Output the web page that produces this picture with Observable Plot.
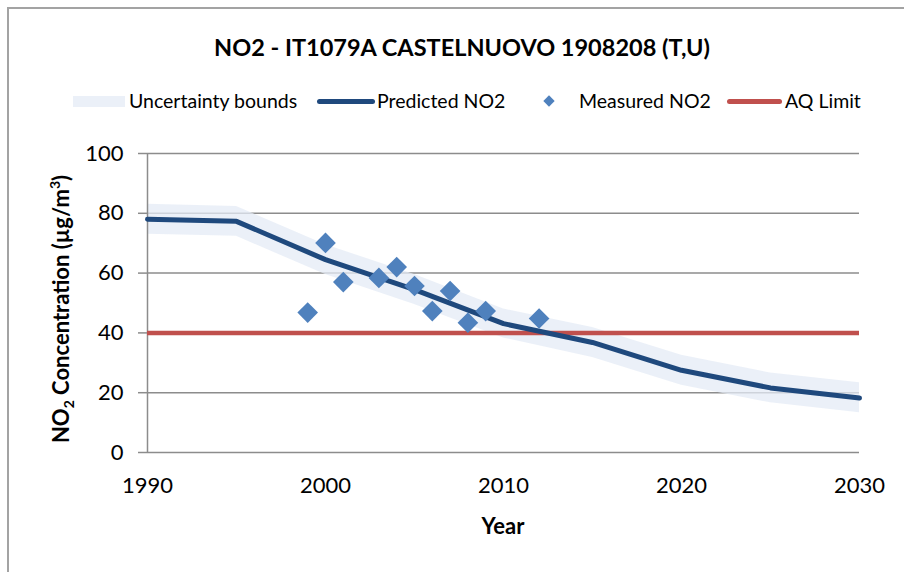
<!DOCTYPE html>
<html>
<head>
<meta charset="utf-8">
<script src="https://cdn.jsdelivr.net/npm/d3@7"></script>
<script src="https://cdn.jsdelivr.net/npm/@observablehq/plot@0.6"></script>
<style>
  html, body { margin: 0; padding: 0; background: #fff; }
  #wrap { position: relative; width: 904px; height: 572px; overflow: hidden; font-family: Lato, "Noto Sans", sans-serif; color: #000; }
  #frame { position: absolute; left: 7px; top: 7px; width: 1200px; height: 1200px; border-left: 2px solid #a3a3a3; border-top: 2px solid #a3a3a3; }
  #title { position: absolute; left: 10px; width: 904px; top: 32px; text-align: center; font-weight: bold; font-size: 23.5px; line-height: 30px; white-space: nowrap; }
  .lg { position: absolute; font-size: 19.5px; line-height: 24px; top: 89px; white-space: nowrap; }
  .sw { position: absolute; }
  #chart { position: absolute; left: 0; top: 120px; }
  #ylab { position: absolute; left: 60px; top: 309px; transform: translate(-50%, -50%) rotate(-90deg); font-weight: bold; font-size: 22px; white-space: nowrap; }
  #ylab sub, #ylab sup { font-size: 14px; line-height: 0; }
  #xlab { position: absolute; left: 503px; top: 525px; transform: translate(-50%, -50%); font-weight: bold; font-size: 22px; white-space: nowrap; }
</style>
</head>
<body>
<div id="wrap">
  <div id="frame"></div>
  <div id="title">NO2 - IT1079A CASTELNUOVO 1908208 (T,U)</div>

  <div class="sw" style="left:73px;top:96px;width:52px;height:11px;background:#EBF0F8;"></div>
  <div class="lg" style="left:129px;">Uncertainty bounds</div>
  <div class="sw" style="left:317px;top:99px;width:58px;height:5px;background:#1F497D;border-radius:3px;"></div>
  <div class="lg" style="left:377px;">Predicted NO2</div>
  <div class="sw" style="left:545px;top:97px;width:8px;height:8px;background:#4F81BD;transform:rotate(45deg);"></div>
  <div class="lg" style="left:579px;">Measured NO2</div>
  <div class="sw" style="left:727px;top:99px;width:55px;height:5px;background:#C0504D;border-radius:3px;"></div>
  <div class="lg" style="left:785px;">AQ Limit</div>

  <div id="chart"></div>
  <div id="ylab">NO<sub>2</sub> Concentration (µg/m<sup>3</sup>)</div>
  <div id="xlab">Year</div>
</div>
<script>
// ---- data ----
const predYears  = [1990, 1995, 2000, 2005, 2010, 2015, 2020, 2025, 2030];
const predicted  = [78.0, 77.3, 64.5, 54.5, 43.1, 36.8, 27.5, 21.6, 18.2];
const upperBound = [83.0, 82.3, 69.5, 59.5, 48.0, 41.8, 32.5, 26.6, 23.3];
const lowerBound = [73.0, 72.3, 59.5, 49.5, 38.3, 31.8, 22.5, 16.6, 13.3];

const measuredYears  = [1999, 2000, 2001, 2003, 2004, 2005, 2006, 2007, 2008, 2009, 2012];
const measuredValues = [46.8, 70.1, 57.0, 58.4, 62.0, 55.7, 47.3, 54.0, 43.4, 47.3, 44.8];

const aqLimit = 40;
const xTicks = [1990, 2000, 2010, 2020, 2030];
const yTicks = [0, 20, 40, 60, 80, 100];

// ---- tables ----
const predRows = predYears.map((year, i) => ({year, value: predicted[i], upper: upperBound[i], lower: lowerBound[i]}));
const measRows = measuredYears.map((year, i) => ({year, value: measuredValues[i]}));

const gray = "#8c8c8c";

const chart = Plot.plot({
  width: 904,
  height: 440,
  marginLeft: 147,
  marginRight: 45,
  marginTop: 33,
  marginBottom: 108,
  style: {fontFamily: "Lato, 'Noto Sans', sans-serif", fontSize: "22px", color: "#000", background: "transparent", overflow: "visible"},
  x: {domain: [1990, 2030]},
  y: {domain: [0, 100]},
  marks: [
    Plot.gridY(yTicks.filter(d => d > 0), {stroke: gray, strokeOpacity: 1, strokeWidth: 1.5}),
    Plot.areaY(predRows, {x: "year", y1: "lower", y2: "upper", fill: "#E4EBF5", fillOpacity: 0.75, curve: "linear"}),
    Plot.ruleX([1990], {stroke: gray, strokeWidth: 1.5}),
    Plot.ruleY([0], {stroke: gray, strokeWidth: 1.5}),
    Plot.axisY({ticks: yTicks, tickSize: 9, tickPadding: 15, stroke: gray, strokeWidth: 1.5, fill: "#000", label: null}),
    Plot.axisX({ticks: xTicks, tickSize: 0, tickPadding: 25, tickFormat: d => String(d), fill: "#000", label: null}),
    Plot.ruleY([aqLimit], {stroke: "#C0504D", strokeWidth: 4.5}),
    Plot.line(predRows, {x: "year", y: "value", stroke: "#1F497D", strokeWidth: 5, curve: "linear", strokeLinejoin: "round"}),
    Plot.dot(measRows, {x: "year", y: "value", symbol: "diamond2", r: 9.3, fill: "#4F81BD", stroke: "none"})
  ]
});
document.getElementById("chart").appendChild(chart);
</script>
</body>
</html>
